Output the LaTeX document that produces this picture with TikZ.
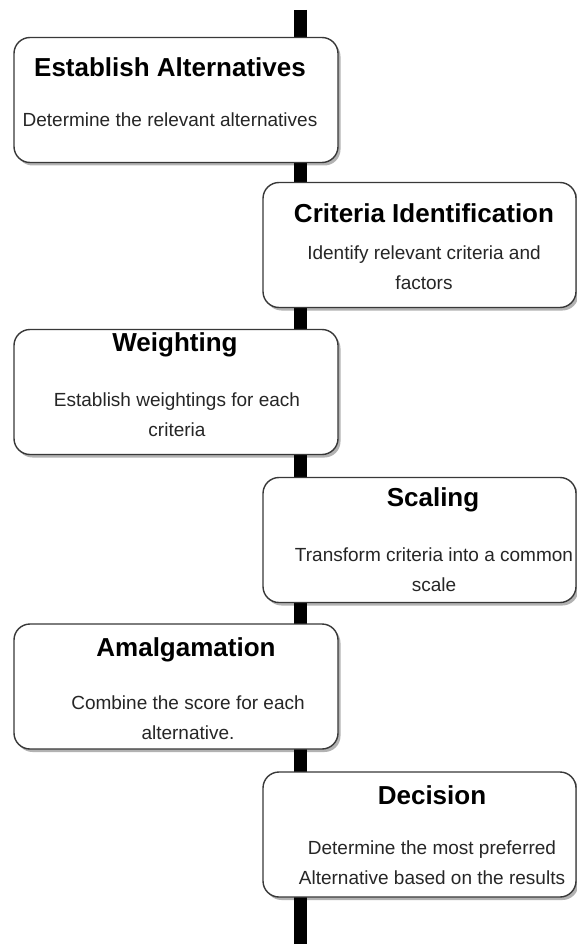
\documentclass[tikz,border=0pt]{standalone}
\usepackage{fontspec}
\setmainfont{Liberation Sans}
\usetikzlibrary{shadows}
\begin{document}
\begin{tikzpicture}[x=1pt, y=-1pt,
  spine/.style={line width=13pt, draw=black},
  stepbox/.style={draw=black!78, line width=1.4pt, rounded corners=16pt, fill=white,
    minimum width=#1, minimum height=125pt, inner sep=0pt,
    drop shadow={shadow xshift=2.5pt, shadow yshift=-3pt, opacity=0.3, fill=black}},
  steptitle/.style={font=\fontsize{26}{30}\selectfont\bfseries, text=black, inner sep=0pt},
  stepbody/.style={font=\fontsize{19}{30}\selectfont, text=black!85, align=center, inner sep=0pt}]
  % canvas
  \useasboundingbox[fill=white] (0,0) rectangle (577,944);

  % timeline spine behind the boxes
  \coordinate (top) at (300,10);
  \coordinate (bottom) at (300,948);
  \draw[spine] (top) -- (bottom);

  % process steps, alternating left and right of the spine
  \node[stepbox=324pt] (b1) at (176,100) {};
  \node[stepbox=313pt] (b2) at (419.5,245) {};
  \node[stepbox=324pt] (b3) at (176,392) {};
  \node[stepbox=313pt] (b4) at (419.5,540) {};
  \node[stepbox=324pt] (b5) at (176,686.5) {};
  \node[stepbox=313pt] (b6) at (419.5,834.5) {};

  % step titles
  \node[steptitle] (t1) at (170,67) {Establish Alternatives};
  \node[steptitle] (t2) at (424,213) {Criteria Identification};
  \node[steptitle] (t3) at (175,345) {Weighting};
  \node[steptitle] (t4) at (433,500) {Scaling};
  \node[steptitle] (t5) at (186,650) {Amalgamation};
  \node[steptitle] (t6) at (432,795) {Decision};

  % step descriptions
  \node[stepbody] (d1) at (170,120) {Determine the relevant alternatives};
  \node[stepbody] (d2) at (424,267.5) {Identify relevant criteria and\\factors};
  \node[stepbody] (d3) at (177,414.5) {Establish weightings for each\\criteria};
  \node[stepbody] (d4) at (434,570) {Transform criteria into a common\\scale};
  \node[stepbody] (d5) at (188,718) {Combine the score for each\\alternative.};
  \node[stepbody] (d6) at (432,862.5) {Determine the most preferred\\Alternative based on the results};
\end{tikzpicture}
\end{document}
